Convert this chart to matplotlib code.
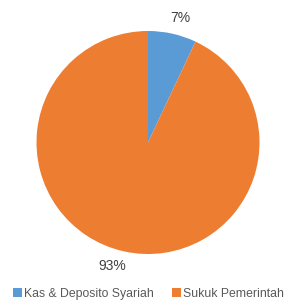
import matplotlib
matplotlib.use('Agg')
from matplotlib import pyplot as plt

labels = ['Kas & Deposito Syariah', 'Sukuk Pemerintah']
shares = [7, 93]
colors = ['#5B9BD5', '#ED7D31']

plt.rcParams['font.family'] = ['Liberation Sans', 'DejaVu Sans']

W, H = 297, 305
fig = plt.figure(figsize=(W / 100, H / 100), dpi=100, facecolor='w')
cx, cy, r = 148, 142.5, 111.5
ax = fig.add_axes([(cx - r) / W, (H - cy - r) / H, 2 * r / W, 2 * r / H])

wedges, texts, autotexts = ax.pie(shares, colors=colors, startangle=90, counterclock=False,
                                  autopct='%1.0f%%', pctdistance=1.17,
                                  wedgeprops={'linewidth': 0},
                                  textprops={'fontsize': 10, 'color': '#404040'})
# Excel-style label placement is a bit further round than the wedge middle
autotexts[0].set_position((0.29, 1.12))
autotexts[1].set_position((-0.32, -1.11))
ax.set_xlim(-1, 1)
ax.set_ylim(-1, 1)
ax.set_aspect('equal')

fig.legend(wedges, labels, loc='center', bbox_to_anchor=(0.5, 1 - 294 / H), ncol=2,
           frameon=False, fontsize=8.8, handlelength=0.7, handleheight=0.7,
           handletextpad=0.2, columnspacing=1.5, labelcolor='#595959')

fig.savefig('out.png', dpi=100)
plt.close()
